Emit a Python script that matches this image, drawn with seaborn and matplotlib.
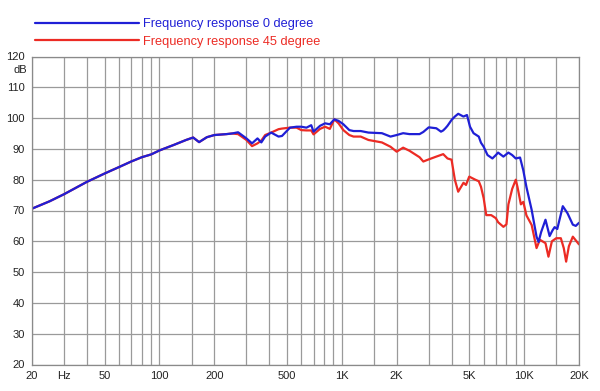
import numpy as np
import pandas as pd
import matplotlib
matplotlib.use("Agg")
import matplotlib.pyplot as plt
import seaborn as sns

# ---- data ----
freq_low = [20, 25, 30, 40, 50, 60, 70, 80, 90, 100, 120, 140, 153, 165, 182, 200, 233, 250]
db_low = [70.6, 73.0, 75.3, 79.3, 82.0, 84.1, 85.9, 87.3, 88.2, 89.5, 91.3, 92.9, 93.7, 92.2, 93.8, 94.5, 94.8, 95.0]

freq_0 = [270, 300, 322, 345, 362, 380, 410, 450, 470, 520, 565, 600, 640, 680, 700, 760, 810, 860,
          910, 960, 1020, 1100, 1160, 1270, 1400, 1660, 1850, 2000, 2170, 2350, 2670, 2800, 3000,
          3300, 3500, 3600, 3700, 3800, 4000, 4170, 4350, 4650, 4860, 5050, 5280, 5640, 5800, 6000,
          6300, 6700, 7000, 7200, 7700, 8200, 8600, 9000, 9500, 9900, 10300, 11000, 11700, 12000,
          12400, 13100, 13800, 14300, 14700, 15200, 16300, 17300, 18500, 19200, 20000]
db_0 = [95.4, 93.4, 91.8, 93.4, 92.1, 94.0, 95.3, 94.0, 94.2, 96.9, 97.2, 97.2, 96.9, 97.7, 95.6, 97.5, 98.3, 98.0,
        99.6, 99.1, 98.0, 96.1, 95.8, 95.8, 95.3, 95.1, 94.0, 94.5, 95.1, 94.8, 94.8, 95.5, 97.0,
        96.7, 95.6, 96.0, 96.7, 97.5, 99.4, 100.5, 101.4, 100.5, 101.0, 97.2, 95.1, 94.0, 92.0, 90.7,
        88.0, 86.9, 88.0, 88.8, 87.5, 88.8, 88.0, 86.9, 87.2, 83.0, 77.6, 70.2, 61.5, 59.8,
        63.0, 67.0, 61.7, 63.5, 64.6, 64.0, 71.4, 69.1, 65.4, 65.0, 66.0]

freq_45 = [270, 300, 322, 345, 362, 380, 410, 450, 470, 520, 565, 600, 640, 680, 700, 760, 810, 860,
           910, 960, 1020, 1100, 1160, 1270, 1400, 1660, 1850, 2000, 2170, 2350, 2670, 2800, 3000,
           3300, 3600, 3800, 4000, 4170, 4350, 4650, 4800, 5000, 5400, 5640, 5800, 6000, 6200,
           6600, 7000, 7200, 7700, 8000, 8200, 8600, 9000, 9200, 9600, 9900, 10300, 11000, 11700,
           12200, 13100, 13600, 14200, 15000, 15900, 16500, 17000, 17600, 18500, 20000]
db_45 = [94.8, 92.9, 90.9, 91.8, 92.7, 94.5, 95.3, 96.4, 96.6, 96.9, 96.9, 96.1, 96.0, 96.0, 94.7, 96.5, 97.2, 96.5,
         99.6, 98.3, 96.1, 94.5, 94.0, 94.0, 92.9, 92.1, 90.7, 89.1, 90.4, 89.4, 87.3, 85.9, 86.6,
         87.5, 88.3, 86.9, 86.5, 80.0, 76.1, 79.0, 78.3, 81.0, 80.0, 79.5, 77.7, 74.0, 68.5,
         68.5, 67.5, 66.2, 64.7, 65.5, 72.0, 77.0, 80.0, 77.6, 72.0, 72.8, 68.4, 65.3, 57.8,
         60.5, 59.4, 55.0, 60.0, 61.0, 61.0, 57.8, 53.4, 58.4, 61.5, 59.0]

labels = ["Frequency response 0 degree", "Frequency response 45 degree"]
x_ticks = [20, 30, 50, 100, 200, 500, 1000, 2000, 5000, 10000, 20000]
x_ticklabels = ["20", "Hz", "50", "100", "200", "500", "1K", "2K", "5K", "10K", "20K"]
y_ticks = [20, 30, 40, 50, 60, 70, 80, 90, 100, 110, 120]

df0 = pd.DataFrame({"f": freq_low + freq_0, "dB": db_low + db_0, "s": labels[0]})
df45 = pd.DataFrame({"f": freq_low + freq_45, "dB": db_low + db_45, "s": labels[1]})

BLUE = "#1f1fd6"
RED = "#ec2b24"

sns.set_theme(style="white")
plt.rcParams["font.family"] = ["Liberation Sans", "DejaVu Sans"]

fig = plt.figure(figsize=(6.0, 3.91), dpi=100)
ax = fig.add_axes([32 / 600, 1 - 364.5 / 391, (579 - 32) / 600, (364.5 - 56.5) / 391])

sns.lineplot(data=df45, x="f", y="dB", color=RED, linewidth=1.6, ax=ax, label=labels[1], sort=True)
sns.lineplot(data=df0, x="f", y="dB", color=BLUE, linewidth=1.6, ax=ax, label=labels[0], sort=True)

ax.set_xscale("log")
ax.set_xlim(20, 20000)
ax.set_ylim(20, 120)
minor = []
for dec in [10, 100, 1000, 10000]:
    for m in [1, 1.5, 2, 3, 4, 5, 6, 7, 8, 9]:
        v = dec * m
        if 20 <= v <= 20000:
            minor.append(v)
ax.set_xticks(minor, minor=True)
ax.set_xticks(x_ticks)
ax.set_xticklabels(x_ticklabels)
ax.xaxis.set_minor_formatter(matplotlib.ticker.NullFormatter())
ax.set_yticks(y_ticks)
ax.set_yticklabels([str(v) for v in y_ticks])
ax.grid(True, which="both", axis="x", color="#9a9a9a", linewidth=0.9)
ax.grid(True, which="major", axis="y", color="#9a9a9a", linewidth=0.9)
ax.set_axisbelow(True)
ax.set_xlabel("")
ax.set_ylabel("")
for sp in ax.spines.values():
    sp.set_color("#8a8a8a")
    sp.set_linewidth(0.9)
ax.tick_params(axis="both", which="major", labelsize=8, colors="#222222", length=3, width=0.8, pad=2)
ax.tick_params(axis="both", which="major", color="#8a8a8a")
ax.tick_params(axis="x", which="minor", length=0)
ax.text(-0.008, 115.5, "dB", transform=ax.get_yaxis_transform(), ha="right", va="center",
        fontsize=8, color="#222222")

h, l = ax.get_legend_handles_labels()
leg = ax.legend(h[::-1], l[::-1], loc="upper left", bbox_to_anchor=(35 / 600, 1 - 18 / 391),
                bbox_transform=fig.transFigure, frameon=False, borderpad=0, borderaxespad=0,
                handlelength=8.1, handletextpad=0.35, labelspacing=0.45, fontsize=9.2,
                labelcolor="linecolor")

fig.savefig("out.png", dpi=100, facecolor="white")
